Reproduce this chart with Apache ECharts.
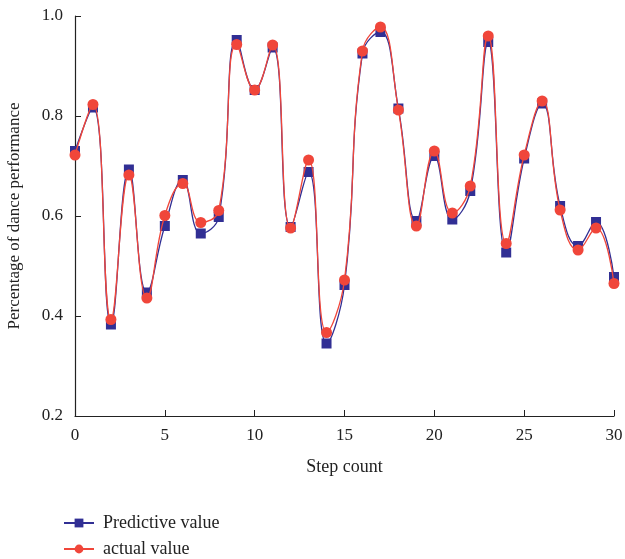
<!DOCTYPE html>
<html>
<head>
<meta charset="utf-8">
<script src="https://cdn.jsdelivr.net/npm/echarts@6/dist/echarts.min.js"></script>
<style>
html, body { margin: 0; padding: 0; background: #fff; }
#chart { width: 625px; height: 559px; }
</style>
</head>
<body>
<div id="chart"></div>
<script>
var steps = [];
for (var i = 0; i <= 30; i++) steps.push(i);

var predictive = [0.730, 0.817, 0.383, 0.693, 0.447, 0.580, 0.672, 0.565, 0.598, 0.952,
	0.852, 0.937, 0.578, 0.688, 0.345, 0.462, 0.925, 0.968, 0.815, 0.590,
	0.720, 0.593, 0.650, 0.948, 0.527, 0.715, 0.825, 0.620, 0.540, 0.588, 0.478];
var actual = [0.722, 0.823, 0.393, 0.682, 0.436, 0.601, 0.665, 0.587, 0.611, 0.943,
	0.852, 0.942, 0.576, 0.712, 0.367, 0.472, 0.930, 0.978, 0.812, 0.580,
	0.730, 0.606, 0.660, 0.960, 0.545, 0.722, 0.830, 0.612, 0.532, 0.576, 0.465];

var blue = '#312f94';
var red = '#f0463a';
var font = 'Liberation Serif';

function pairs(arr) {
	var out = [];
	for (var i = 0; i < arr.length; i++) out.push([steps[i], arr[i]]);
	return out;
}

//一个图例一行
function legendRow(name, top) {
	return {
		left: 58,
		top: top,
		itemGap: 0,
		itemWidth: 30,
		itemHeight: 11,
		textStyle: { fontFamily: font, fontSize: 18, color: '#222', padding: [0, 0, 0, 4] },
		data: [name]
	};
}

var myChart = echarts.init(document.getElementById('chart'));

var option = {
	animation: false,
	textStyle: { fontFamily: font },
	grid: { left: 75, right: 11, top: 16, bottom: 143, outerBoundsMode: 'none', containLabel: false },
	legend: [legendRow('Predictive value', 509), legendRow('actual value', 535)],
	xAxis: {
		type: 'value',
		min: 0, max: 30, interval: 5,
		name: 'Step count',
		nameLocation: 'middle',
		nameGap: 42,
		nameTextStyle: { fontFamily: font, fontSize: 18, color: '#222' },
		axisLine: { lineStyle: { color: '#222', width: 1.2 } },
		axisTick: { inside: true, length: 6, lineStyle: { color: '#222' } },
		axisLabel: { fontFamily: font, fontSize: 17, color: '#222', margin: 11 },
		splitLine: { show: false }
	},
	yAxis: {
		type: 'value',
		min: 0.2, max: 1.0, interval: 0.2,
		name: 'Percentage of dance performance',
		nameLocation: 'middle',
		nameGap: 52,
		nameTextStyle: { fontFamily: font, fontSize: 17, color: '#222' },
		axisLine: { show: true, lineStyle: { color: '#222', width: 1.2 } },
		axisTick: { show: true, inside: true, length: 6, lineStyle: { color: '#222' } },
		axisLabel: {
			fontFamily: font, fontSize: 17, color: '#222', margin: 12,
			formatter: function(v) { return v.toFixed(1); }
		},
		splitLine: { show: false }
	},
	series: [{
		name: 'Predictive value',
		type: 'line',
		smooth: 0.45,
		data: pairs(predictive),
		symbol: 'rect',
		symbolSize: 10,
		itemStyle: { color: blue },
		lineStyle: { color: blue, width: 1.3 },
		z: 2
	}, {
		name: 'actual value',
		type: 'line',
		smooth: 0.45,
		data: pairs(actual),
		symbol: 'circle',
		symbolSize: 11,
		itemStyle: { color: red },
		lineStyle: { color: red, width: 1.3 },
		z: 3
	}]
};

myChart.setOption(option);
</script>
</body>
</html>
